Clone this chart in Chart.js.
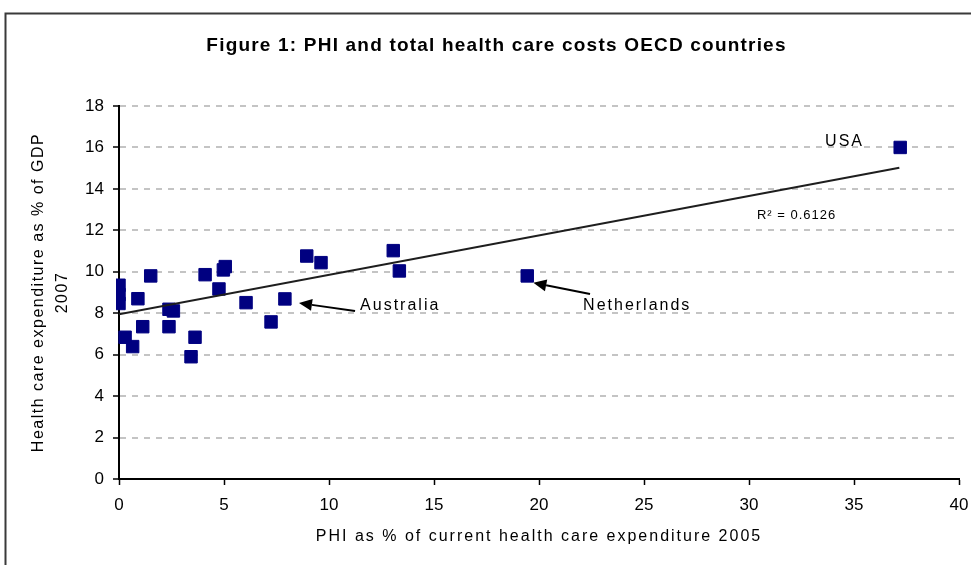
<!DOCTYPE html>
<html>
<head>
<meta charset="utf-8">
<style>
html,body{margin:0;padding:0;background:#fff;overflow:hidden}
#wrap{width:971px;height:565px;position:relative}
</style>
<script src="https://cdn.jsdelivr.net/npm/chart.js@4.4.1/dist/chart.umd.min.js"></script>
</head>
<body>
<div id="wrap"><canvas id="c" width="971" height="565"></canvas></div>
<script>
// ---- data ----
const phiShare = [0, 0, 0, 0.29, 0.65, 0.9, 1.13, 1.51, 2.38, 2.59, 2.38, 3.43, 3.62, 4.1, 4.76, 4.97, 5.06, 6.05, 7.24, 7.9, 8.94, 9.62, 13.06, 13.35, 19.44, 37.2];
const healthSpend = [9.35, 8.9, 8.47, 6.84, 6.39, 8.7, 7.35, 9.8, 8.19, 8.11, 7.35, 5.9, 6.84, 9.86, 9.17, 10.09, 10.25, 8.51, 7.58, 8.69, 10.76, 10.44, 11.02, 10.04, 9.8, 16.0];
const trendPhi = [0, 37.16];
const trendSpend = [7.95, 15.02];
const xTickValues = [0, 5, 10, 15, 20, 25, 30, 35, 40];
const yTickValues = [0, 2, 4, 6, 8, 10, 12, 14, 16, 18];
const chartTitle = 'Figure 1: PHI and total health care costs OECD countries';
const xTitle = 'PHI as % of current health care expenditure 2005';
const yTitle = ['Health care expenditure as % of GDP', '2007'];
const labelTexts = ['USA', 'R\u00B2 = 0.6126', 'Australia', 'Netherlands'];
const labelAt = [[34.55, 16.3], [30.38, 12.72], [11.48, 8.35], [22.1, 8.35]];
const arrowFrom = [[11.24, 8.11], [22.43, 8.93]];
const arrowTo = [[8.57, 8.49], [19.73, 9.47]];

const FAM = '"Liberation Sans", Arial, sans-serif';

function spacedTitle(scale, px) {
  if (scale._spacedPatch) return;
  const orig = scale.drawTitle;
  scale.drawTitle = function () {
    const ctx = this.ctx;
    ctx.save();
    ctx.letterSpacing = px;
    orig.call(this);
    ctx.restore();
  };
  scale._spacedPatch = true;
}

const framePlugin = {
  id: 'frame',
  beforeDraw(chart) {
    const tb = chart.titleBlock;
    if (tb && !tb._spacedPatch) {
      const orig = tb.draw;
      tb.draw = function () {
        const ctx = this.ctx;
        ctx.save();
        ctx.letterSpacing = '1.2px';
        orig.apply(this, arguments);
        ctx.restore();
      };
      tb._spacedPatch = true;
    }
    const ctx = chart.ctx;
    ctx.save();
    ctx.fillStyle = '#fff';
    ctx.fillRect(0, 0, chart.width, chart.height);
    ctx.strokeStyle = '#3a3a3a';
    ctx.lineWidth = 2;
    ctx.beginPath();
    ctx.moveTo(971, 13.5);
    ctx.lineTo(5.5, 13.5);
    ctx.lineTo(5.5, 565);
    ctx.stroke();
    ctx.restore();
  }
};

const notesPlugin = {
  id: 'notes',
  afterDraw(chart) {
    const ctx = chart.ctx;
    const xs = chart.scales.x, ys = chart.scales.y;
    ctx.save();
    ctx.fillStyle = '#000';
    ctx.textBaseline = 'middle';
    labelTexts.forEach((t, i) => {
      const px = xs.getPixelForValue(labelAt[i][0]);
      const py = ys.getPixelForValue(labelAt[i][1]);
      if (i === 1) {
        ctx.font = '13px ' + FAM;
        ctx.letterSpacing = '1px';
      } else {
        ctx.font = '16px ' + FAM;
        ctx.letterSpacing = '2px';
      }
      ctx.textAlign = i === 0 ? 'center' : 'left';
      ctx.fillText(t, px, py);
    });
    ctx.letterSpacing = '0px';
    ctx.strokeStyle = '#000';
    ctx.lineWidth = 2;
    arrowFrom.forEach((f, i) => {
      const x1 = xs.getPixelForValue(f[0]), y1 = ys.getPixelForValue(f[1]);
      const x2 = xs.getPixelForValue(arrowTo[i][0]), y2 = ys.getPixelForValue(arrowTo[i][1]);
      const ang = Math.atan2(y2 - y1, x2 - x1);
      const L = 13, W = 6;
      const bx = x2 - L * Math.cos(ang), by = y2 - L * Math.sin(ang);
      ctx.beginPath();
      ctx.moveTo(x1, y1);
      ctx.lineTo(bx, by);
      ctx.stroke();
      ctx.beginPath();
      ctx.moveTo(x2, y2);
      ctx.lineTo(bx + W * Math.sin(ang), by - W * Math.cos(ang));
      ctx.lineTo(bx - W * Math.sin(ang), by + W * Math.cos(ang));
      ctx.closePath();
      ctx.fillStyle = '#000';
      ctx.fill();
    });
    ctx.restore();
  }
};

const points = phiShare.map((x, i) => ({x: x, y: healthSpend[i]}));
const trend = trendPhi.map((x, i) => ({x: x, y: trendSpend[i]}));

new Chart(document.getElementById('c'), {
  type: 'scatter',
  data: {
    datasets: [
      {
        label: 'Trend',
        data: trend,
        showLine: true,
        borderColor: '#1e1e1e',
        borderWidth: 2,
        pointRadius: 0,
        fill: false
      },
      {
        label: 'OECD countries',
        data: points,
        pointStyle: 'rect',
        pointRadius: 8.8,
        backgroundColor: '#000080',
        borderColor: '#000080',
        borderWidth: 1,
        clip: {left: 3, top: false, right: false, bottom: false}
      }
    ]
  },
  options: {
    responsive: false,
    animation: false,
    devicePixelRatio: 1,
    layout: {padding: {top: 0, left: 34, right: 12, bottom: 0}},
    plugins: {
      legend: {display: false},
      tooltip: {enabled: false},
      title: {
        display: true,
        text: chartTitle,
        color: '#000',
        font: {family: FAM, size: 19, weight: 'bold', lineHeight: 1.2},
        padding: {top: 34.6, bottom: 48.6}
      }
    },
    scales: {
      x: {
        type: 'linear',
        min: 0,
        max: 40,
        afterBuildTicks: (s) => { s.ticks = xTickValues.map(v => ({value: v})); },
        afterFit: (s) => { s.height = 86; s.paddingRight = 0; s.paddingLeft = 0; spacedTitle(s, '2px'); },
        ticks: {color: '#000', font: {family: FAM, size: 17}, padding: 10, maxRotation: 0},
        grid: {drawOnChartArea: false, drawTicks: true, tickLength: 6, tickColor: '#000', tickWidth: 1.5},
        border: {display: true, color: '#000', width: 2},
        title: {display: true, text: xTitle, color: '#000', font: {family: FAM, size: 16, lineHeight: 1.2}, padding: {top: 0, bottom: 18.4}}
      },
      y: {
        type: 'linear',
        min: 0,
        max: 18,
        afterBuildTicks: (s) => { s.ticks = yTickValues.map(v => ({value: v})); },
        afterFit: (s) => { s.width = 85; spacedTitle(s, '1.5px'); },
        ticks: {color: '#000', font: {family: FAM, size: 17}, padding: 9},
        grid: {color: '#c4c4c4', lineWidth: 2, drawTicks: true, tickLength: 6, tickColor: '#000', tickWidth: 1.5},
        border: {display: true, color: '#000', width: 2, dash: [6, 6]},
        title: {display: true, text: yTitle, color: '#000', font: {family: FAM, size: 16, lineHeight: 1.5}, padding: {top: -7, bottom: 0}}
      }
    }
  },
  plugins: [framePlugin, notesPlugin]
});
</script>
</body>
</html>
